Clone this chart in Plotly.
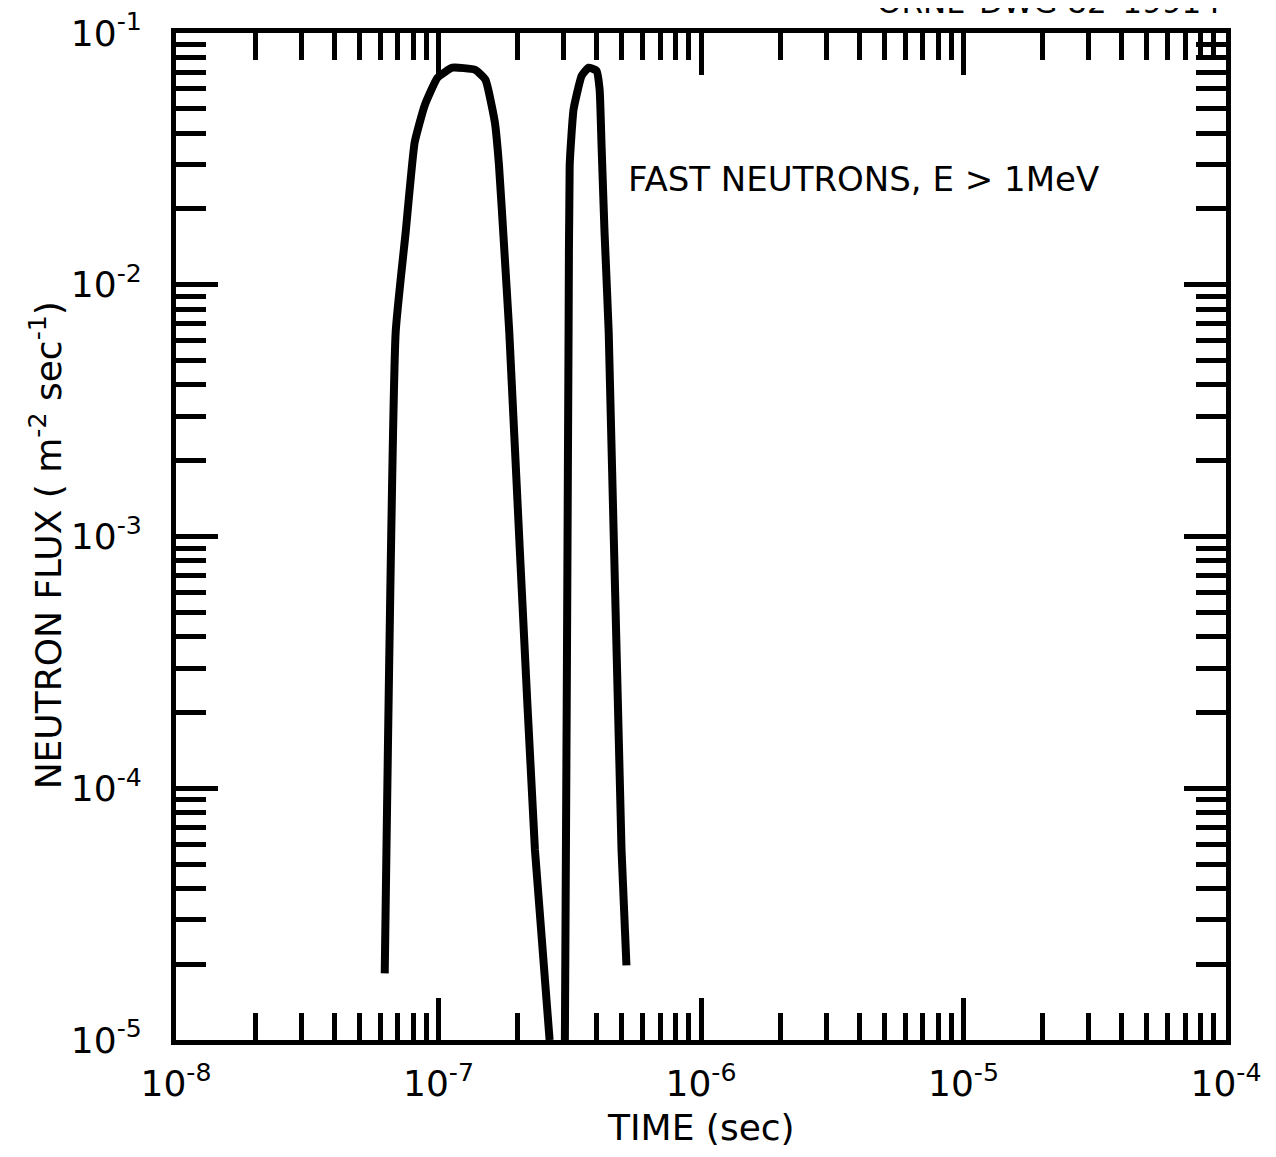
import plotly.graph_objects as go

# Data (time in sec, flux in m^-2 sec^-1)
pulse1_time = [6.24e-8, 6.87e-8, 7.50e-8, 8.11e-8, 8.85e-8, 9.91e-8, 1.13e-7, 1.38e-7,
               1.51e-7, 1.64e-7, 1.70e-7, 1.78e-7, 1.86e-7, 2.05e-7, 2.33e-7, 2.65e-7]
pulse1_flux = [1.84e-5, 6.5e-3, 1.62e-2, 3.67e-2, 5.14e-2, 6.64e-2, 7.28e-2, 7.14e-2,
               6.52e-2, 4.41e-2, 2.98e-2, 1.39e-2, 6.5e-3, 8.0e-4, 5.7e-5, 1.0e-5]

pulse2_time = [3.03e-7, 3.08e-7, 3.13e-7, 3.16e-7, 3.27e-7, 3.51e-7, 3.73e-7, 4.00e-7,
               4.11e-7, 4.18e-7, 4.29e-7, 4.45e-7, 4.98e-7, 5.20e-7]
pulse2_flux = [1.0e-5, 2.25e-4, 6.5e-3, 2.98e-2, 4.97e-2, 6.76e-2, 7.28e-2, 7.08e-2,
               5.96e-2, 3.57e-2, 1.62e-2, 6.5e-3, 5.7e-5, 1.98e-5]

x_decades = [-8, -7, -6, -5, -4]
y_decades = [-5, -4, -3, -2, -1]
x_ticktext = ["10<sup>-8</sup>", "10<sup>-7</sup>", "10<sup>-6</sup>", "10<sup>-5</sup>", "10<sup>-4</sup>"]
y_ticktext = ["10<sup>-5</sup>", "10<sup>-4</sup>", "10<sup>-3</sup>", "10<sup>-2</sup>", "10<sup>-1</sup>"]

FONT = "DejaVu Sans"

x_minor = [m * 10.0 ** e for e in x_decades[:-1] for m in range(2, 10)]
y_minor = [m * 10.0 ** e for e in y_decades[:-1] for m in range(2, 10)]

fig = go.Figure()
for t, f in [(pulse1_time, pulse1_flux), (pulse2_time, pulse2_flux)]:
    fig.add_trace(go.Scatter(x=t, y=f, mode="lines",
                             line=dict(color="black", width=8, shape="spline", smoothing=0.4),
                             showlegend=False, hoverinfo="skip"))

axis_common = dict(
    showgrid=False, zeroline=False, showline=True, linecolor="black", linewidth=5,
    mirror="allticks", ticks="inside", ticklen=42, tickwidth=5, tickcolor="black",
    tickfont=dict(family=FONT, size=36, color="black"),
    automargin=False, ticklabeloverflow="allow",
)

fig.update_xaxes(type="log", range=[-8, -4], tickmode="array",
                 tickvals=[10.0 ** d for d in x_decades], ticktext=x_ticktext,
                 ticklabelstandoff=8,
                 minor=dict(tickmode="array", tickvals=x_minor, ticks="inside",
                            ticklen=27, tickwidth=5, tickcolor="black", showgrid=False),
                 **axis_common)
fig.update_yaxes(type="log", range=[-5, -1], tickmode="array",
                 tickvals=[10.0 ** d for d in y_decades], ticktext=y_ticktext,
                 ticklabelstandoff=22,
                 minor=dict(tickmode="array", tickvals=y_minor, ticks="inside",
                            ticklen=30, tickwidth=5, tickcolor="black", showgrid=False),
                 **axis_common)

fig.add_annotation(text="TIME (sec)", xref="paper", yref="paper", x=0.5, y=-0.087,
                   xanchor="center", yanchor="middle", showarrow=False,
                   font=dict(family=FONT, size=36, color="black"))
fig.add_annotation(text="NEUTRON FLUX ( m<sup>-2</sup> sec<sup>-1</sup>)", xref="paper", yref="paper",
                   x=-0.124, y=0.491, textangle=-90, xanchor="center", yanchor="middle",
                   showarrow=False, font=dict(family=FONT, size=36, color="black"))
fig.add_annotation(text="FAST NEUTRONS, E > 1MeV", xref="paper", yref="paper",
                   x=0.429, y=0.855, xanchor="left", yanchor="middle", showarrow=False,
                   font=dict(family=FONT, size=34, color="black"))
fig.add_annotation(text="ORNL\u2013DWG 82\u201319914", xref="paper", yref="paper",
                   x=0.997, y=1.031, xanchor="right", yanchor="middle", showarrow=False,
                   font=dict(family=FONT, size=31, color="black"))

fig.update_layout(width=1276, height=1157, margin=dict(l=168, r=58, t=25, b=125, autoexpand=False),
                  paper_bgcolor="white", plot_bgcolor="white")

fig.write_html("out.html")
